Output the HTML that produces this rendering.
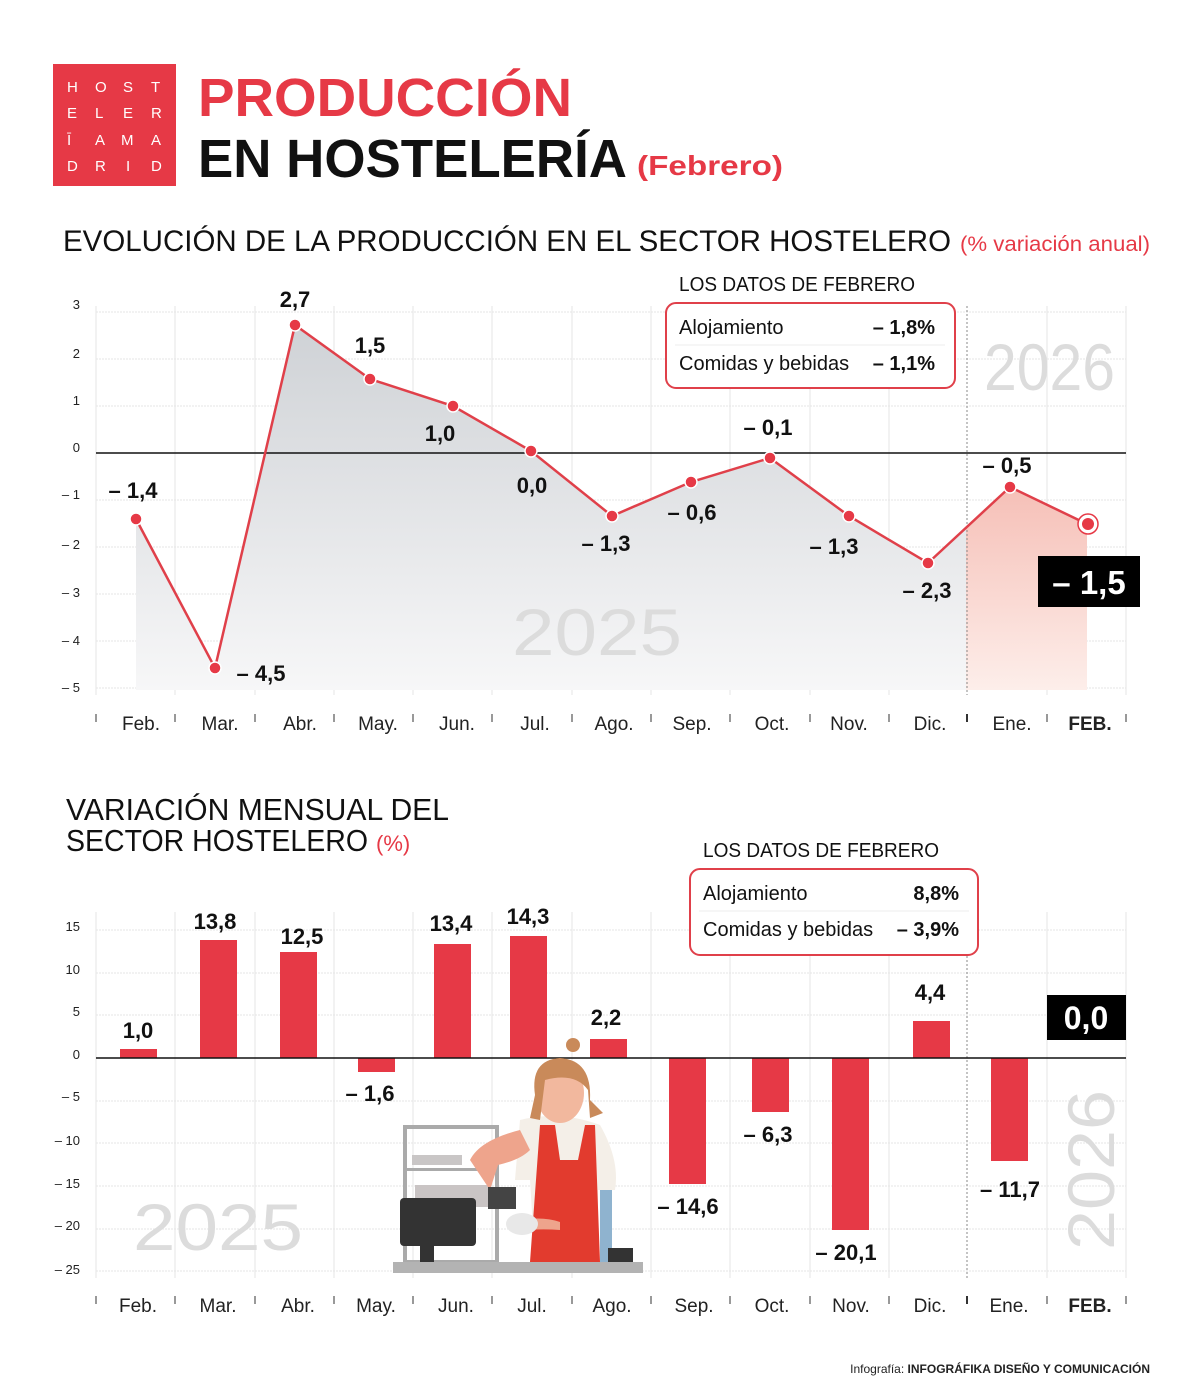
<!DOCTYPE html>
<html><head><meta charset="utf-8"><style>
html,body{margin:0;padding:0;background:#fff;}
svg{display:block;font-family:"Liberation Sans",sans-serif;}
.b{font-weight:bold;fill:#111;}
.ax{font-size:13px;fill:#222;}
.mo{font-size:19px;fill:#222;}
</style></head><body>
<svg width="1200" height="1400" viewBox="0 0 1200 1400" xmlns="http://www.w3.org/2000/svg">
<defs>
<linearGradient id="gg" x1="0" y1="0" x2="0" y2="1"><stop offset="0" stop-color="#cfd2d6"/><stop offset="1" stop-color="#f7f7f8"/></linearGradient>
<linearGradient id="pg" x1="0" y1="0" x2="0" y2="1"><stop offset="0" stop-color="#f09a8e"/><stop offset="1" stop-color="#fdeeea"/></linearGradient>
<clipPath id="cg"><rect x="0" y="0" width="966" height="800"/></clipPath>
<clipPath id="cp"><rect x="966" y="0" width="300" height="800"/></clipPath>
</defs>
<!-- logo -->
<rect x="53" y="64" width="123" height="122" fill="#e63946"/>
<g fill="#fff" font-size="15">
<text x="67" y="92">H</text><text x="95" y="92">O</text><text x="123" y="92">S</text><text x="151" y="92">T</text>
<text x="67" y="118">E</text><text x="95" y="118">L</text><text x="123" y="118">E</text><text x="151" y="118">R</text>
<text x="67" y="145">Ī</text><text x="95" y="145">A</text><text x="121" y="145">M</text><text x="151" y="145">A</text>
<text x="67" y="171">D</text><text x="95" y="171">R</text><text x="126" y="171">I</text><text x="151" y="171">D</text>
</g>
<text x="198" y="116" font-size="54" fill="#e63946" font-weight="bold" textLength="374" lengthAdjust="spacingAndGlyphs">PRODUCCIÓN</text>
<text x="198" y="177" font-size="54" fill="#111" font-weight="bold" textLength="429" lengthAdjust="spacingAndGlyphs">EN HOSTELERÍA</text>
<text x="637" y="175" font-size="28" fill="#e63946" font-weight="bold" textLength="146" lengthAdjust="spacingAndGlyphs">(Febrero)</text>

<text x="63" y="251" font-size="30" fill="#111" textLength="888" lengthAdjust="spacingAndGlyphs">EVOLUCIÓN DE LA PRODUCCIÓN EN EL SECTOR HOSTELERO</text>
<text x="960" y="251" font-size="21" fill="#e63946" textLength="190" lengthAdjust="spacingAndGlyphs">(% variación anual)</text>

<!-- top chart grid -->
<g stroke="#e6e6e6" stroke-width="1">
<line x1="96" y1="306" x2="96" y2="695"/><line x1="175" y1="306" x2="175" y2="695"/><line x1="255" y1="306" x2="255" y2="695"/><line x1="334" y1="306" x2="334" y2="695"/><line x1="413" y1="306" x2="413" y2="695"/><line x1="492" y1="306" x2="492" y2="695"/><line x1="572" y1="306" x2="572" y2="695"/><line x1="651" y1="306" x2="651" y2="695"/><line x1="730" y1="306" x2="730" y2="695"/><line x1="810" y1="306" x2="810" y2="695"/><line x1="889" y1="306" x2="889" y2="695"/><line x1="1047" y1="306" x2="1047" y2="695"/><line x1="1126" y1="306" x2="1126" y2="695"/>
</g>
<g stroke="#e6e6e6" stroke-dasharray="2,1">
<line x1="96" y1="312" x2="1126" y2="312"/><line x1="96" y1="359" x2="1126" y2="359"/><line x1="96" y1="406" x2="1126" y2="406"/><line x1="96" y1="500" x2="1126" y2="500"/><line x1="96" y1="547" x2="1126" y2="547"/><line x1="96" y1="594" x2="1126" y2="594"/><line x1="96" y1="641" x2="1126" y2="641"/><line x1="96" y1="688" x2="1126" y2="688"/>
</g>
<g class="ax" text-anchor="end">
<text x="80" y="309">3</text><text x="80" y="358">2</text><text x="80" y="405">1</text><text x="80" y="452">0</text><text x="80" y="499">– 1</text><text x="80" y="549">– 2</text><text x="80" y="597">– 3</text><text x="80" y="645">– 4</text><text x="80" y="692">– 5</text>
</g>
<path d="M136,519 L215,668 L295,325 L370,379 L453,406 L531,451 L612,516 L691,482 L770,458 L849,516 L928,563 L1010,487 L1087,524 L1087,690 L136,690Z" fill="url(#gg)" clip-path="url(#cg)"/>
<path d="M136,519 L215,668 L295,325 L370,379 L453,406 L531,451 L612,516 L691,482 L770,458 L849,516 L928,563 L1010,487 L1087,524 L1087,690 L136,690Z" fill="url(#pg)" clip-path="url(#cp)"/>
<line x1="96" y1="453" x2="1126" y2="453" stroke="#111" stroke-width="1.5"/>
<line x1="967" y1="306" x2="967" y2="695" stroke="#888" stroke-dasharray="2,2"/>
<text x="984" y="390" font-size="66" fill="#dcdcdc" textLength="131" lengthAdjust="spacingAndGlyphs">2026</text>
<text x="512" y="655" font-size="66" fill="#dcdcdc" textLength="170" lengthAdjust="spacingAndGlyphs">2025</text>
<polyline points="136,519 215,668 295,325 370,379 453,406 531,451 612,516 691,482 770,458 849,516 928,563 1010,487 1087,524" fill="none" stroke="#e0404a" stroke-width="2.5"/>
<g fill="#e63946" stroke="#fff" stroke-width="1.5">
<circle cx="136" cy="519" r="6"/><circle cx="215" cy="668" r="6"/><circle cx="295" cy="325" r="6"/><circle cx="370" cy="379" r="6"/><circle cx="453" cy="406" r="6"/><circle cx="531" cy="451" r="6"/><circle cx="612" cy="516" r="6"/><circle cx="691" cy="482" r="6"/><circle cx="770" cy="458" r="6"/><circle cx="849" cy="516" r="6"/><circle cx="928" cy="563" r="6"/><circle cx="1010" cy="487" r="6"/>
</g>
<circle cx="1088" cy="524" r="10" fill="#fff" stroke="#e63946" stroke-width="1.5"/><circle cx="1088" cy="524" r="6" fill="#e63946"/>
<g class="b" font-size="22" text-anchor="middle">
<text x="133" y="498">– 1,4</text><text x="261" y="681">– 4,5</text><text x="295" y="307">2,7</text><text x="370" y="353">1,5</text><text x="440" y="441">1,0</text><text x="532" y="493">0,0</text><text x="606" y="551">– 1,3</text><text x="692" y="520">– 0,6</text><text x="768" y="435">– 0,1</text><text x="834" y="554">– 1,3</text><text x="927" y="598">– 2,3</text><text x="1007" y="473">– 0,5</text>
</g>
<rect x="1038" y="556" width="102" height="51" fill="#000"/>
<text x="1089" y="594" text-anchor="middle" font-size="33" font-weight="bold" fill="#fff">– 1,5</text>
<!-- box top -->
<text x="679" y="291" font-size="20" fill="#111" textLength="236" lengthAdjust="spacingAndGlyphs">LOS DATOS DE FEBRERO</text>
<rect x="666" y="303" width="289" height="85" rx="10" fill="#fff" stroke="#e0404a" stroke-width="2"/>
<line x1="675" y1="345" x2="945" y2="345" stroke="#eee"/>
<text x="679" y="334" font-size="20" fill="#111">Alojamiento</text>
<text x="935" y="334" font-size="20" fill="#111" font-weight="bold" text-anchor="end">– 1,8%</text>
<text x="679" y="370" font-size="20" fill="#111">Comidas y bebidas</text>
<text x="935" y="370" font-size="20" fill="#111" font-weight="bold" text-anchor="end">– 1,1%</text>
<!-- month labels top -->
<g stroke="#333"><line x1="96" y1="714" x2="96" y2="722"/><line x1="175" y1="714" x2="175" y2="722"/><line x1="255" y1="714" x2="255" y2="722"/><line x1="334" y1="714" x2="334" y2="722"/><line x1="413" y1="714" x2="413" y2="722"/><line x1="492" y1="714" x2="492" y2="722"/><line x1="572" y1="714" x2="572" y2="722"/><line x1="651" y1="714" x2="651" y2="722"/><line x1="730" y1="714" x2="730" y2="722"/><line x1="810" y1="714" x2="810" y2="722"/><line x1="889" y1="714" x2="889" y2="722"/><line x1="967" y1="714" x2="967" y2="722" stroke-width="2"/><line x1="1047" y1="714" x2="1047" y2="722"/><line x1="1126" y1="714" x2="1126" y2="722"/></g>
<g class="mo" text-anchor="middle">
<text x="141" y="730">Feb.</text><text x="220" y="730">Mar.</text><text x="300" y="730">Abr.</text><text x="378" y="730">May.</text><text x="457" y="730">Jun.</text><text x="535" y="730">Jul.</text><text x="614" y="730">Ago.</text><text x="692" y="730">Sep.</text><text x="772" y="730">Oct.</text><text x="849" y="730">Nov.</text><text x="930" y="730">Dic.</text><text x="1012" y="730">Ene.</text><text x="1090" y="730" font-weight="bold">FEB.</text>
</g>

<!-- bottom title -->
<text x="66" y="820" font-size="31" fill="#111" textLength="383" lengthAdjust="spacingAndGlyphs">VARIACIÓN MENSUAL DEL</text>
<text x="66" y="851" font-size="31" fill="#111" textLength="302" lengthAdjust="spacingAndGlyphs">SECTOR HOSTELERO</text>
<text x="376" y="851" font-size="22" fill="#e63946">(%)</text>
<!-- bottom grid -->
<g stroke="#e6e6e6">
<line x1="96" y1="912" x2="96" y2="1278"/><line x1="175" y1="912" x2="175" y2="1278"/><line x1="255" y1="912" x2="255" y2="1278"/><line x1="334" y1="912" x2="334" y2="1278"/><line x1="413" y1="912" x2="413" y2="1278"/><line x1="492" y1="912" x2="492" y2="1278"/><line x1="572" y1="912" x2="572" y2="1278"/><line x1="651" y1="912" x2="651" y2="1278"/><line x1="730" y1="912" x2="730" y2="1278"/><line x1="810" y1="912" x2="810" y2="1278"/><line x1="889" y1="912" x2="889" y2="1278"/><line x1="1047" y1="912" x2="1047" y2="1278"/><line x1="1126" y1="912" x2="1126" y2="1278"/>
</g>
<g stroke="#e6e6e6" stroke-dasharray="2,1">
<line x1="96" y1="930" x2="1126" y2="930"/><line x1="96" y1="973" x2="1126" y2="973"/><line x1="96" y1="1015" x2="1126" y2="1015"/><line x1="96" y1="1101" x2="1126" y2="1101"/><line x1="96" y1="1143" x2="1126" y2="1143"/><line x1="96" y1="1186" x2="1126" y2="1186"/><line x1="96" y1="1229" x2="1126" y2="1229"/><line x1="96" y1="1271" x2="1126" y2="1271"/>
</g>
<g class="ax" text-anchor="end">
<text x="80" y="931">15</text><text x="80" y="974">10</text><text x="80" y="1016">5</text><text x="80" y="1059">0</text><text x="80" y="1101">– 5</text><text x="80" y="1145">– 10</text><text x="80" y="1188">– 15</text><text x="80" y="1230">– 20</text><text x="80" y="1274">– 25</text>
</g>
<text x="133" y="1250" font-size="66" fill="#dcdcdc" textLength="170" lengthAdjust="spacingAndGlyphs">2025</text>
<text transform="translate(1114,1250) rotate(-90)" font-size="66" fill="#dcdcdc" textLength="160" lengthAdjust="spacingAndGlyphs">2026</text>
<line x1="967" y1="912" x2="967" y2="1280" stroke="#888" stroke-dasharray="2,2"/>
<g fill="#e63946">
<rect x="120" y="1049" width="37" height="9"/><rect x="200" y="940" width="37" height="118"/><rect x="280" y="952" width="37" height="106"/><rect x="358" y="1058" width="37" height="14"/><rect x="434" y="944" width="37" height="114"/><rect x="510" y="936" width="37" height="122"/><rect x="590" y="1039" width="37" height="19"/><rect x="669" y="1058" width="37" height="126"/><rect x="752" y="1058" width="37" height="54"/><rect x="832" y="1058" width="37" height="172"/><rect x="913" y="1021" width="37" height="37"/><rect x="991" y="1058" width="37" height="103"/>
</g>
<line x1="96" y1="1058" x2="1126" y2="1058" stroke="#111" stroke-width="1.5"/>
<g class="b" font-size="22" text-anchor="middle">
<text x="138" y="1038">1,0</text><text x="215" y="929">13,8</text><text x="302" y="944">12,5</text><text x="370" y="1101">– 1,6</text><text x="451" y="931">13,4</text><text x="528" y="924">14,3</text><text x="606" y="1025">2,2</text><text x="688" y="1214">– 14,6</text><text x="768" y="1142">– 6,3</text><text x="846" y="1260">– 20,1</text><text x="930" y="1000">4,4</text><text x="1010" y="1197">– 11,7</text>
</g>
<rect x="1047" y="995" width="79" height="45" fill="#000"/>
<text x="1086" y="1029" text-anchor="middle" font-size="32" font-weight="bold" fill="#fff">0,0</text>
<!-- box bottom -->
<text x="703" y="857" font-size="20" fill="#111" textLength="236" lengthAdjust="spacingAndGlyphs">LOS DATOS DE FEBRERO</text>
<rect x="690" y="869" width="288" height="86" rx="10" fill="#fff" stroke="#e0404a" stroke-width="2"/>
<line x1="699" y1="911" x2="969" y2="911" stroke="#eee"/>
<text x="703" y="900" font-size="20" fill="#111">Alojamiento</text>
<text x="959" y="900" font-size="20" fill="#111" font-weight="bold" text-anchor="end">8,8%</text>
<text x="703" y="936" font-size="20" fill="#111">Comidas y bebidas</text>
<text x="959" y="936" font-size="20" fill="#111" font-weight="bold" text-anchor="end">– 3,9%</text>

<!-- illustration -->
<rect x="405" y="1127" width="92" height="135" fill="none" stroke="#aaa" stroke-width="4"/>
<rect x="405" y="1168" width="92" height="3" fill="#aaa"/>
<rect x="412" y="1155" width="50" height="10" fill="#c9c6c6"/>
<rect x="415" y="1185" width="75" height="22" fill="#c9c4c4"/>
<path d="M600,1180 L612,1180 L612,1262 L600,1262Z" fill="#8fb3cf"/>
<path d="M520,1120 Q560,1110 600,1125 Q620,1160 615,1190 L598,1190 L598,1262 L535,1262 L530,1180 L515,1180 Z" fill="#f4efe8"/>
<path d="M540,1125 L555,1125 L560,1160 L578,1160 L585,1125 L595,1125 L600,1262 L530,1262 Z" fill="#e23b2e"/>
<path d="M520,1130 Q480,1140 470,1160 L490,1190 L498,1165 Q520,1160 530,1150Z" fill="#eea48c"/>
<path d="M510,1222 Q540,1215 560,1222 L560,1230 Q535,1228 512,1232Z" fill="#eea48c"/>
<ellipse cx="560" cy="1093" rx="24" ry="30" fill="#f2b89e"/>
<path d="M535,1095 Q530,1060 560,1058 Q592,1060 590,1100 L603,1113 L590,1118 L588,1090 Q575,1072 545,1080 L540,1120 L530,1118Z" fill="#c98a5a"/>
<circle cx="573" cy="1045" r="7" fill="#c98a5a"/>
<rect x="488" y="1187" width="28" height="22" fill="#444"/>
<ellipse cx="522" cy="1224" rx="16" ry="11" fill="#e8e8e8"/>
<rect x="400" y="1198" width="76" height="48" rx="4" fill="#333"/>
<rect x="420" y="1230" width="14" height="32" fill="#333"/>
<rect x="608" y="1248" width="25" height="14" fill="#333"/>
<rect x="393" y="1262" width="250" height="11" fill="#b3b3b3"/>

<!-- month labels bottom -->
<g stroke="#333"><line x1="96" y1="1296" x2="96" y2="1304"/><line x1="175" y1="1296" x2="175" y2="1304"/><line x1="255" y1="1296" x2="255" y2="1304"/><line x1="334" y1="1296" x2="334" y2="1304"/><line x1="413" y1="1296" x2="413" y2="1304"/><line x1="492" y1="1296" x2="492" y2="1304"/><line x1="572" y1="1296" x2="572" y2="1304"/><line x1="651" y1="1296" x2="651" y2="1304"/><line x1="730" y1="1296" x2="730" y2="1304"/><line x1="810" y1="1296" x2="810" y2="1304"/><line x1="889" y1="1296" x2="889" y2="1304"/><line x1="967" y1="1296" x2="967" y2="1304" stroke-width="2"/><line x1="1047" y1="1296" x2="1047" y2="1304"/><line x1="1126" y1="1296" x2="1126" y2="1304"/></g>
<g class="mo" text-anchor="middle">
<text x="138" y="1312">Feb.</text><text x="218" y="1312">Mar.</text><text x="298" y="1312">Abr.</text><text x="376" y="1312">May.</text><text x="456" y="1312">Jun.</text><text x="532" y="1312">Jul.</text><text x="612" y="1312">Ago.</text><text x="694" y="1312">Sep.</text><text x="772" y="1312">Oct.</text><text x="851" y="1312">Nov.</text><text x="930" y="1312">Dic.</text><text x="1009" y="1312">Ene.</text><text x="1090" y="1312" font-weight="bold">FEB.</text>
</g>
<text x="1150" y="1373" text-anchor="end" font-size="12" fill="#222">Infografía: <tspan font-weight="bold">INFOGRÁFIKA DISEÑO Y COMUNICACIÓN</tspan></text>
</svg>
</body></html>
